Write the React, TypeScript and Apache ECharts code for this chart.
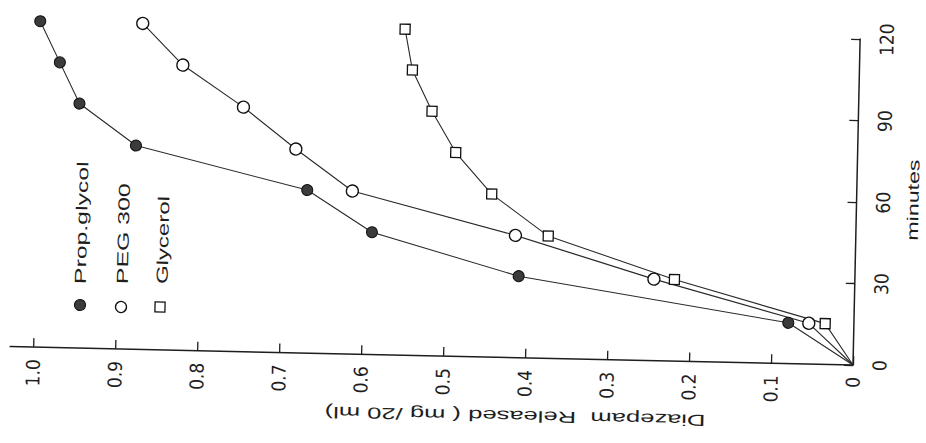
import React, { useEffect, useRef } from "react";
import * as echarts from "echarts";

// ---- data ----
const MINUTES = [0, 15, 30, 45, 60, 75, 90, 105, 120];
const PROP_GLYCOL = [0, 0.08, 0.41, 0.59, 0.67, 0.88, 0.95, 0.975, 1.0];
const PEG_300 = [0, 0.055, 0.245, 0.415, 0.615, 0.685, 0.75, 0.825, 0.875];
const GLYCEROL = [0, 0.035, 0.22, 0.375, 0.445, 0.49, 0.52, 0.545, 0.555];
const RELEASE_TICKS = [0, 0.1, 0.2, 0.3, 0.4, 0.5, 0.6, 0.7, 0.8, 0.9, 1.0];
const MINUTE_TICKS = [0, 30, 60, 90, 120];
const LEGEND_NAMES = ["Prop.glycol", "PEG 300", "Glycerol"];
const X_NAME = "Diazepam  Released ( mg /20 ml)";
const Y_NAME = "minutes";

// the scanned figure is tilted slightly clockwise; reproduce it with a CSS rotation
const TILT_DEG = 1.25;
const OX = 853;
const OY = 365;
function unrot(x: number, y: number): [number, number] {
  const t = (TILT_DEG * Math.PI) / 180;
  const c = Math.cos(t);
  const s = Math.sin(t);
  const dx = x - OX;
  const dy = y - OY;
  return [OX + dx * c + dy * s, OY - dx * s + dy * c];
}

const INK = "#1e1e1e";
const NARROW = "'Liberation Sans Narrow', 'DejaVu Sans Condensed', 'Liberation Sans', Arial, sans-serif";
const SANS = "'Liberation Sans', Arial, sans-serif";

function toPairs(vals: number[]) {
  return vals.map((v, i) =>
    i === 0 ? { value: [v, MINUTES[i]], symbol: "none" } : { value: [v, MINUTES[i]] }
  );
}

function rotText(text: string, refX: number, refY: number, rotation: number, size: number, scaleX: number, align: string) {
  const [x, y] = unrot(refX, refY);
  return {
    type: "text",
    x,
    y,
    rotation,
    scaleX,
    scaleY: 1,
    z: 10,
    style: {
      text,
      fill: INK,
      font: `${size}px ${SANS}`,
      align,
      verticalAlign: "middle",
      textAlign: align,
      textVerticalAlign: "middle",
    },
  };
}

export default function App() {
  const ref = useRef<HTMLDivElement>(null);

  useEffect(() => {
    if (!ref.current) return;
    const chart = echarts.init(ref.current, null, { renderer: "svg" });

    const lineStyle = { color: "#2a2a2a", width: 1.1 };

    const [m1x, m1y] = unrot(80, 305);
    const [m2x, m2y] = unrot(121, 307);
    const [m3x, m3y] = unrot(160, 307);

    const option: any = {
      animation: false,
      backgroundColor: "#ffffff",
      grid: { left: 10, right: 73, top: 39, bottom: 78, containLabel: false },
      xAxis: {
        type: "value",
        inverse: true,
        min: 0,
        max: 1.028,
        position: "bottom",
        splitLine: { show: false },
        axisLine: { show: true, onZero: false, lineStyle: { color: INK, width: 1.5 } },
        axisTick: { show: true, inside: true, length: 9, customValues: RELEASE_TICKS, lineStyle: { color: INK, width: 1.3 } },
        axisLabel: {
          customValues: RELEASE_TICKS,
          rotate: 90,
          margin: 12,
          color: INK,
          fontFamily: NARROW,
          fontSize: 19,
          formatter: (v: number) => (v === 0 ? "0" : v.toFixed(1)),
        },
      },
      yAxis: {
        type: "value",
        min: 0,
        max: 120,
        interval: 30,
        position: "right",
        splitLine: { show: false },
        axisLine: { show: true, onZero: false, lineStyle: { color: INK, width: 1.5 } },
        axisTick: { show: true, inside: true, length: 9, customValues: MINUTE_TICKS, lineStyle: { color: INK, width: 1.3 } },
        axisLabel: {
          customValues: MINUTE_TICKS,
          rotate: 90,
          margin: 17,
          color: INK,
          fontFamily: NARROW,
          fontSize: 19,
        },
      },
      series: [
        {
          name: LEGEND_NAMES[0],
          type: "line",
          data: toPairs(PROP_GLYCOL),
          symbol: "circle",
          symbolSize: 11,
          showAllSymbol: true,
          lineStyle,
          itemStyle: { color: "#3b3b3b", borderColor: "#111", borderWidth: 1 },
          z: 3,
        },
        {
          name: LEGEND_NAMES[1],
          type: "line",
          data: toPairs(PEG_300),
          symbol: "circle",
          symbolSize: 12,
          showAllSymbol: true,
          lineStyle,
          itemStyle: { color: "#ffffff", borderColor: "#111", borderWidth: 1.3 },
          z: 3,
        },
        {
          name: LEGEND_NAMES[2],
          type: "line",
          data: toPairs(GLYCEROL),
          symbol: "rect",
          symbolSize: 10,
          showAllSymbol: true,
          lineStyle,
          itemStyle: { color: "#ffffff", borderColor: "#111", borderWidth: 1.3 },
          z: 3,
        },
      ],
      graphic: [
        { type: "circle", x: m1x, y: m1y, shape: { cx: 0, cy: 0, r: 5.5 }, style: { fill: "#3b3b3b", stroke: "#111", lineWidth: 1 }, z: 10 },
        { type: "circle", x: m2x, y: m2y, shape: { cx: 0, cy: 0, r: 5.5 }, style: { fill: "#fff", stroke: "#111", lineWidth: 1.3 }, z: 10 },
        { type: "rect", x: m3x, y: m3y, shape: { x: -5, y: -5, width: 10, height: 10 }, style: { fill: "#fff", stroke: "#111", lineWidth: 1.3 }, z: 10 },
        rotText(LEGEND_NAMES[0], 80, 284, Math.PI / 2, 16, 1.55, "left"),
        rotText(LEGEND_NAMES[1], 122, 284, Math.PI / 2, 16, 1.55, "left"),
        rotText(LEGEND_NAMES[2], 162, 284, Math.PI / 2, 16, 1.5, "left"),
        rotText(X_NAME, 515, 416, Math.PI, 16, 1.6, "center"),
        rotText(Y_NAME, 913, 200, Math.PI / 2, 16, 1.45, "center"),
      ],
    };

    chart.setOption(option);
    return () => chart.dispose();
  }, []);

  return (
    <div
      style={{
        position: "fixed",
        left: 0,
        top: 0,
        width: 926,
        height: 443,
        background: "#ffffff",
      }}
    >
      <div
        ref={ref}
        style={{
          position: "absolute",
          left: 0,
          top: 0,
          width: 926,
          height: 443,
          transform: `rotate(${TILT_DEG}deg)`,
          transformOrigin: `${OX}px ${OY}px`,
        }}
      />
    </div>
  );
}
